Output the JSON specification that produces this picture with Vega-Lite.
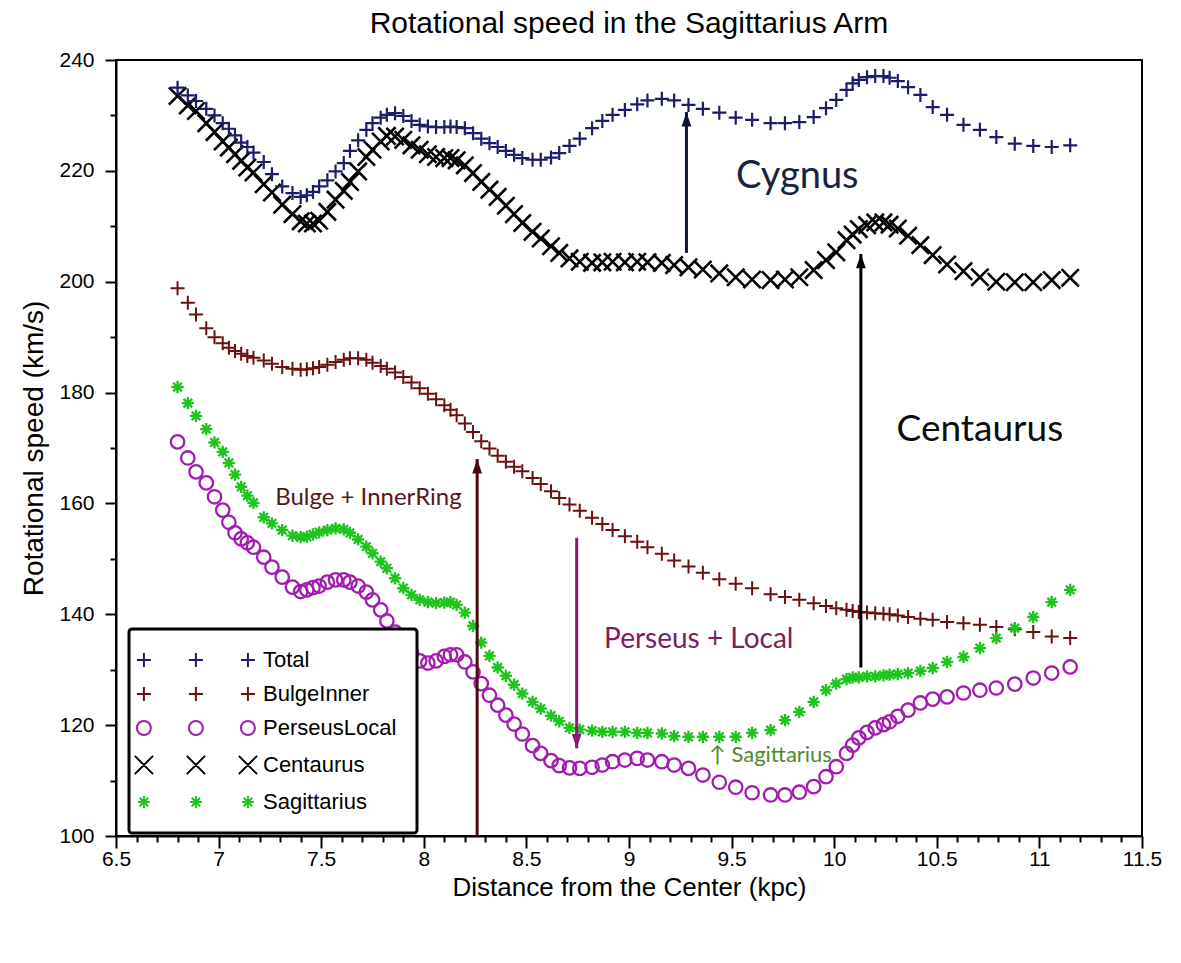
{
  "$schema": "https://vega.github.io/schema/vega-lite/v6.json",
  "width": 1026,
  "height": 776,
  "autosize": {"type": "none"},
  "padding": {"left": 116, "top": 60, "right": 39, "bottom": 127},
  "background": "white",
  "title": {
    "text": "Rotational speed in the Sagittarius Arm",
    "font": "Liberation Sans",
    "fontSize": 30,
    "fontWeight": "normal",
    "color": "black",
    "anchor": "middle",
    "frame": "group",
    "offset": 10
  },
  "config": {
    "view": {"stroke": "black", "strokeWidth": 2},
    "font": "Liberation Sans",
    "legend": {
      "padding": 20,
      "rowPadding": 12,
      "labelFont": "Liberation Sans",
      "labelFontSize": 22,
      "labelColor": "black",
      "labelOffset": 92,
      "labelLimit": 300,
      "fillColor": "white",
      "strokeColor": "black",
      "strokeWidth": 3,
      "cornerRadius": 3,
      "symbolSize": 196,
      "symbolStrokeWidth": 2,
      "symbolOpacity": 1
    }
  },
  "datasets": {
    "speed": [
      {"s":"Centaurus","r":6.80,"v":233.5},{"s":"Centaurus","r":6.85,"v":231.8},{"s":"Centaurus","r":6.89,"v":230.8},{"s":"Centaurus","r":6.94,"v":228.6},{"s":"Centaurus","r":6.98,"v":227.0},
      {"s":"Centaurus","r":7.02,"v":225.3},{"s":"Centaurus","r":7.05,"v":224.2},{"s":"Centaurus","r":7.08,"v":223.0},{"s":"Centaurus","r":7.11,"v":221.8},{"s":"Centaurus","r":7.14,"v":220.6},
      {"s":"Centaurus","r":7.17,"v":219.7},{"s":"Centaurus","r":7.22,"v":217.6},{"s":"Centaurus","r":7.26,"v":216.1},{"s":"Centaurus","r":7.31,"v":213.9},{"s":"Centaurus","r":7.36,"v":212.2},
      {"s":"Centaurus","r":7.40,"v":210.9},{"s":"Centaurus","r":7.43,"v":210.5},{"s":"Centaurus","r":7.46,"v":210.5},{"s":"Centaurus","r":7.49,"v":211.0},{"s":"Centaurus","r":7.53,"v":212.6},
      {"s":"Centaurus","r":7.57,"v":214.8},{"s":"Centaurus","r":7.61,"v":216.4},{"s":"Centaurus","r":7.64,"v":218.0},{"s":"Centaurus","r":7.68,"v":219.9},{"s":"Centaurus","r":7.72,"v":222.5},
      {"s":"Centaurus","r":7.75,"v":223.8},{"s":"Centaurus","r":7.79,"v":225.3},{"s":"Centaurus","r":7.82,"v":226.3},{"s":"Centaurus","r":7.86,"v":226.2},{"s":"Centaurus","r":7.90,"v":225.6},
      {"s":"Centaurus","r":7.94,"v":224.6},{"s":"Centaurus","r":7.98,"v":223.8},{"s":"Centaurus","r":8.02,"v":223.0},{"s":"Centaurus","r":8.06,"v":222.5},{"s":"Centaurus","r":8.10,"v":222.3},
      {"s":"Centaurus","r":8.13,"v":222.3},{"s":"Centaurus","r":8.16,"v":221.9},{"s":"Centaurus","r":8.20,"v":221.0},{"s":"Centaurus","r":8.24,"v":219.6},{"s":"Centaurus","r":8.28,"v":218.0},
      {"s":"Centaurus","r":8.32,"v":216.6},{"s":"Centaurus","r":8.36,"v":215.3},{"s":"Centaurus","r":8.40,"v":213.7},{"s":"Centaurus","r":8.44,"v":212.2},{"s":"Centaurus","r":8.48,"v":210.6},
      {"s":"Centaurus","r":8.53,"v":209.0},{"s":"Centaurus","r":8.57,"v":207.8},{"s":"Centaurus","r":8.62,"v":206.4},{"s":"Centaurus","r":8.66,"v":205.2},{"s":"Centaurus","r":8.71,"v":204.2},
      {"s":"Centaurus","r":8.76,"v":203.6},{"s":"Centaurus","r":8.82,"v":203.4},{"s":"Centaurus","r":8.87,"v":203.5},{"s":"Centaurus","r":8.92,"v":203.6},{"s":"Centaurus","r":8.98,"v":203.5},
      {"s":"Centaurus","r":9.04,"v":203.6},{"s":"Centaurus","r":9.09,"v":203.5},{"s":"Centaurus","r":9.16,"v":203.4},{"s":"Centaurus","r":9.22,"v":203.0},{"s":"Centaurus","r":9.29,"v":202.6},
      {"s":"Centaurus","r":9.36,"v":202.2},{"s":"Centaurus","r":9.44,"v":201.5},{"s":"Centaurus","r":9.52,"v":200.8},{"s":"Centaurus","r":9.60,"v":200.4},{"s":"Centaurus","r":9.69,"v":200.3},
      {"s":"Centaurus","r":9.76,"v":200.4},{"s":"Centaurus","r":9.83,"v":200.8},{"s":"Centaurus","r":9.90,"v":202.1},{"s":"Centaurus","r":9.96,"v":203.9},{"s":"Centaurus","r":10.01,"v":205.3},
      {"s":"Centaurus","r":10.06,"v":207.5},{"s":"Centaurus","r":10.09,"v":208.5},{"s":"Centaurus","r":10.12,"v":209.5},{"s":"Centaurus","r":10.16,"v":210.2},{"s":"Centaurus","r":10.20,"v":210.7},
      {"s":"Centaurus","r":10.24,"v":210.7},{"s":"Centaurus","r":10.27,"v":210.3},{"s":"Centaurus","r":10.31,"v":209.6},{"s":"Centaurus","r":10.36,"v":208.3},{"s":"Centaurus","r":10.42,"v":206.6},
      {"s":"Centaurus","r":10.48,"v":204.8},{"s":"Centaurus","r":10.55,"v":203.1},{"s":"Centaurus","r":10.63,"v":201.9},{"s":"Centaurus","r":10.71,"v":200.8},{"s":"Centaurus","r":10.79,"v":200.0},
      {"s":"Centaurus","r":10.88,"v":199.9},{"s":"Centaurus","r":10.97,"v":199.9},{"s":"Centaurus","r":11.06,"v":200.3},{"s":"Centaurus","r":11.15,"v":200.7},

      {"s":"Total","r":6.80,"v":235.0},{"s":"Total","r":6.85,"v":233.6},{"s":"Total","r":6.89,"v":232.6},{"s":"Total","r":6.94,"v":231.2},{"s":"Total","r":6.98,"v":230.0},
      {"s":"Total","r":7.02,"v":228.6},{"s":"Total","r":7.05,"v":227.6},{"s":"Total","r":7.08,"v":226.4},{"s":"Total","r":7.11,"v":225.1},{"s":"Total","r":7.14,"v":224.3},
      {"s":"Total","r":7.17,"v":223.3},{"s":"Total","r":7.22,"v":221.6},{"s":"Total","r":7.26,"v":219.4},{"s":"Total","r":7.31,"v":217.2},{"s":"Total","r":7.36,"v":216.0},
      {"s":"Total","r":7.40,"v":215.3},{"s":"Total","r":7.43,"v":215.6},{"s":"Total","r":7.46,"v":216.2},{"s":"Total","r":7.49,"v":217.2},{"s":"Total","r":7.53,"v":218.3},
      {"s":"Total","r":7.57,"v":219.9},{"s":"Total","r":7.61,"v":221.4},{"s":"Total","r":7.64,"v":223.6},{"s":"Total","r":7.68,"v":225.5},{"s":"Total","r":7.72,"v":227.4},
      {"s":"Total","r":7.75,"v":228.6},{"s":"Total","r":7.79,"v":229.6},{"s":"Total","r":7.82,"v":230.1},{"s":"Total","r":7.86,"v":230.4},{"s":"Total","r":7.90,"v":229.9},
      {"s":"Total","r":7.94,"v":229.0},{"s":"Total","r":7.98,"v":228.3},{"s":"Total","r":8.02,"v":228.0},{"s":"Total","r":8.06,"v":227.9},{"s":"Total","r":8.10,"v":227.9},
      {"s":"Total","r":8.13,"v":228.0},{"s":"Total","r":8.16,"v":227.9},{"s":"Total","r":8.20,"v":227.7},{"s":"Total","r":8.24,"v":226.8},{"s":"Total","r":8.28,"v":225.8},
      {"s":"Total","r":8.32,"v":225.0},{"s":"Total","r":8.36,"v":224.3},{"s":"Total","r":8.40,"v":223.6},{"s":"Total","r":8.44,"v":222.9},{"s":"Total","r":8.48,"v":222.3},
      {"s":"Total","r":8.53,"v":222.0},{"s":"Total","r":8.57,"v":222.0},{"s":"Total","r":8.62,"v":222.4},{"s":"Total","r":8.66,"v":223.2},{"s":"Total","r":8.71,"v":224.5},
      {"s":"Total","r":8.76,"v":225.8},{"s":"Total","r":8.82,"v":227.7},{"s":"Total","r":8.87,"v":229.0},{"s":"Total","r":8.92,"v":230.1},{"s":"Total","r":8.98,"v":231.0},
      {"s":"Total","r":9.04,"v":232.0},{"s":"Total","r":9.09,"v":232.7},{"s":"Total","r":9.16,"v":233.0},{"s":"Total","r":9.22,"v":232.7},{"s":"Total","r":9.29,"v":231.9},
      {"s":"Total","r":9.36,"v":231.2},{"s":"Total","r":9.44,"v":230.5},{"s":"Total","r":9.52,"v":229.6},{"s":"Total","r":9.60,"v":229.2},{"s":"Total","r":9.69,"v":228.6},
      {"s":"Total","r":9.76,"v":228.6},{"s":"Total","r":9.83,"v":228.8},{"s":"Total","r":9.90,"v":229.7},{"s":"Total","r":9.96,"v":231.3},{"s":"Total","r":10.01,"v":232.8},
      {"s":"Total","r":10.06,"v":234.6},{"s":"Total","r":10.09,"v":235.8},{"s":"Total","r":10.12,"v":236.4},{"s":"Total","r":10.16,"v":236.9},{"s":"Total","r":10.20,"v":237.1},
      {"s":"Total","r":10.24,"v":237.1},{"s":"Total","r":10.27,"v":236.8},{"s":"Total","r":10.31,"v":236.2},{"s":"Total","r":10.36,"v":235.1},{"s":"Total","r":10.42,"v":233.7},
      {"s":"Total","r":10.48,"v":231.5},{"s":"Total","r":10.55,"v":230.1},{"s":"Total","r":10.63,"v":228.3},{"s":"Total","r":10.71,"v":227.4},{"s":"Total","r":10.79,"v":226.1},
      {"s":"Total","r":10.88,"v":224.9},{"s":"Total","r":10.97,"v":224.5},{"s":"Total","r":11.06,"v":224.3},{"s":"Total","r":11.15,"v":224.6},

      {"s":"BulgeInner","r":6.80,"v":198.8},{"s":"BulgeInner","r":6.85,"v":196.2},{"s":"BulgeInner","r":6.89,"v":194.1},{"s":"BulgeInner","r":6.94,"v":191.6},{"s":"BulgeInner","r":6.98,"v":190.0},
      {"s":"BulgeInner","r":7.02,"v":188.9},{"s":"BulgeInner","r":7.05,"v":188.1},{"s":"BulgeInner","r":7.08,"v":187.5},{"s":"BulgeInner","r":7.11,"v":187.0},{"s":"BulgeInner","r":7.14,"v":186.6},
      {"s":"BulgeInner","r":7.17,"v":186.3},{"s":"BulgeInner","r":7.22,"v":185.8},{"s":"BulgeInner","r":7.26,"v":185.2},{"s":"BulgeInner","r":7.31,"v":184.6},{"s":"BulgeInner","r":7.36,"v":184.3},
      {"s":"BulgeInner","r":7.40,"v":184.1},{"s":"BulgeInner","r":7.43,"v":184.2},{"s":"BulgeInner","r":7.46,"v":184.4},{"s":"BulgeInner","r":7.49,"v":184.6},{"s":"BulgeInner","r":7.53,"v":185.0},
      {"s":"BulgeInner","r":7.57,"v":185.5},{"s":"BulgeInner","r":7.61,"v":185.9},{"s":"BulgeInner","r":7.64,"v":186.2},{"s":"BulgeInner","r":7.68,"v":186.2},{"s":"BulgeInner","r":7.72,"v":185.9},
      {"s":"BulgeInner","r":7.75,"v":185.4},{"s":"BulgeInner","r":7.79,"v":184.8},{"s":"BulgeInner","r":7.82,"v":184.3},{"s":"BulgeInner","r":7.86,"v":183.6},{"s":"BulgeInner","r":7.90,"v":182.8},
      {"s":"BulgeInner","r":7.94,"v":181.8},{"s":"BulgeInner","r":7.98,"v":180.8},{"s":"BulgeInner","r":8.02,"v":179.8},{"s":"BulgeInner","r":8.06,"v":178.8},{"s":"BulgeInner","r":8.10,"v":177.7},
      {"s":"BulgeInner","r":8.13,"v":176.9},{"s":"BulgeInner","r":8.16,"v":175.9},{"s":"BulgeInner","r":8.20,"v":174.4},{"s":"BulgeInner","r":8.24,"v":172.9},{"s":"BulgeInner","r":8.28,"v":171.2},
      {"s":"BulgeInner","r":8.32,"v":169.9},{"s":"BulgeInner","r":8.36,"v":168.6},{"s":"BulgeInner","r":8.40,"v":167.5},{"s":"BulgeInner","r":8.44,"v":166.6},{"s":"BulgeInner","r":8.48,"v":165.8},
      {"s":"BulgeInner","r":8.53,"v":164.6},{"s":"BulgeInner","r":8.57,"v":163.5},{"s":"BulgeInner","r":8.62,"v":162.2},{"s":"BulgeInner","r":8.66,"v":161.0},{"s":"BulgeInner","r":8.71,"v":159.8},
      {"s":"BulgeInner","r":8.76,"v":158.7},{"s":"BulgeInner","r":8.82,"v":157.4},{"s":"BulgeInner","r":8.87,"v":156.3},{"s":"BulgeInner","r":8.92,"v":155.2},{"s":"BulgeInner","r":8.98,"v":154.1},
      {"s":"BulgeInner","r":9.04,"v":153.1},{"s":"BulgeInner","r":9.09,"v":152.1},{"s":"BulgeInner","r":9.16,"v":150.9},{"s":"BulgeInner","r":9.22,"v":149.7},{"s":"BulgeInner","r":9.29,"v":148.6},
      {"s":"BulgeInner","r":9.36,"v":147.5},{"s":"BulgeInner","r":9.44,"v":146.3},{"s":"BulgeInner","r":9.52,"v":145.5},{"s":"BulgeInner","r":9.60,"v":144.7},{"s":"BulgeInner","r":9.69,"v":143.6},
      {"s":"BulgeInner","r":9.76,"v":143.1},{"s":"BulgeInner","r":9.83,"v":142.6},{"s":"BulgeInner","r":9.90,"v":142.0},{"s":"BulgeInner","r":9.96,"v":141.5},{"s":"BulgeInner","r":10.01,"v":141.1},
      {"s":"BulgeInner","r":10.06,"v":140.8},{"s":"BulgeInner","r":10.09,"v":140.6},{"s":"BulgeInner","r":10.12,"v":140.4},{"s":"BulgeInner","r":10.16,"v":140.3},{"s":"BulgeInner","r":10.20,"v":140.2},
      {"s":"BulgeInner","r":10.24,"v":140.1},{"s":"BulgeInner","r":10.27,"v":140.0},{"s":"BulgeInner","r":10.31,"v":139.8},{"s":"BulgeInner","r":10.36,"v":139.5},{"s":"BulgeInner","r":10.42,"v":139.2},
      {"s":"BulgeInner","r":10.48,"v":139.0},{"s":"BulgeInner","r":10.55,"v":138.6},{"s":"BulgeInner","r":10.63,"v":138.4},{"s":"BulgeInner","r":10.71,"v":138.1},{"s":"BulgeInner","r":10.79,"v":137.7},
      {"s":"BulgeInner","r":10.88,"v":137.3},{"s":"BulgeInner","r":10.97,"v":136.8},{"s":"BulgeInner","r":11.06,"v":136.0},{"s":"BulgeInner","r":11.15,"v":135.7},

      {"s":"PerseusLocal","r":6.80,"v":171.1},{"s":"PerseusLocal","r":6.85,"v":168.2},{"s":"PerseusLocal","r":6.89,"v":165.7},{"s":"PerseusLocal","r":6.94,"v":163.7},{"s":"PerseusLocal","r":6.98,"v":161.2},
      {"s":"PerseusLocal","r":7.02,"v":158.8},{"s":"PerseusLocal","r":7.05,"v":156.6},{"s":"PerseusLocal","r":7.08,"v":154.7},{"s":"PerseusLocal","r":7.11,"v":153.6},{"s":"PerseusLocal","r":7.14,"v":152.9},
      {"s":"PerseusLocal","r":7.17,"v":152.1},{"s":"PerseusLocal","r":7.22,"v":150.3},{"s":"PerseusLocal","r":7.26,"v":148.5},{"s":"PerseusLocal","r":7.31,"v":146.7},{"s":"PerseusLocal","r":7.36,"v":144.9},
      {"s":"PerseusLocal","r":7.40,"v":144.1},{"s":"PerseusLocal","r":7.43,"v":144.4},{"s":"PerseusLocal","r":7.46,"v":144.8},{"s":"PerseusLocal","r":7.49,"v":145.1},{"s":"PerseusLocal","r":7.53,"v":145.8},
      {"s":"PerseusLocal","r":7.57,"v":146.2},{"s":"PerseusLocal","r":7.61,"v":146.2},{"s":"PerseusLocal","r":7.64,"v":145.8},{"s":"PerseusLocal","r":7.68,"v":145.1},{"s":"PerseusLocal","r":7.72,"v":144.0},
      {"s":"PerseusLocal","r":7.75,"v":142.6},{"s":"PerseusLocal","r":7.79,"v":140.8},{"s":"PerseusLocal","r":7.82,"v":138.8},{"s":"PerseusLocal","r":7.86,"v":136.8},{"s":"PerseusLocal","r":7.90,"v":134.8},
      {"s":"PerseusLocal","r":7.94,"v":133.0},{"s":"PerseusLocal","r":7.98,"v":131.6},{"s":"PerseusLocal","r":8.02,"v":131.2},{"s":"PerseusLocal","r":8.06,"v":131.6},{"s":"PerseusLocal","r":8.10,"v":132.4},
      {"s":"PerseusLocal","r":8.13,"v":132.7},{"s":"PerseusLocal","r":8.16,"v":132.7},{"s":"PerseusLocal","r":8.20,"v":131.4},{"s":"PerseusLocal","r":8.24,"v":129.6},{"s":"PerseusLocal","r":8.28,"v":127.5},
      {"s":"PerseusLocal","r":8.32,"v":125.4},{"s":"PerseusLocal","r":8.36,"v":123.6},{"s":"PerseusLocal","r":8.40,"v":121.8},{"s":"PerseusLocal","r":8.44,"v":120.2},{"s":"PerseusLocal","r":8.48,"v":118.4},
      {"s":"PerseusLocal","r":8.53,"v":116.3},{"s":"PerseusLocal","r":8.57,"v":114.9},{"s":"PerseusLocal","r":8.62,"v":113.6},{"s":"PerseusLocal","r":8.66,"v":112.7},{"s":"PerseusLocal","r":8.71,"v":112.3},
      {"s":"PerseusLocal","r":8.76,"v":112.2},{"s":"PerseusLocal","r":8.82,"v":112.4},{"s":"PerseusLocal","r":8.87,"v":112.8},{"s":"PerseusLocal","r":8.92,"v":113.4},{"s":"PerseusLocal","r":8.98,"v":113.7},
      {"s":"PerseusLocal","r":9.04,"v":114.0},{"s":"PerseusLocal","r":9.09,"v":113.7},{"s":"PerseusLocal","r":9.16,"v":113.4},{"s":"PerseusLocal","r":9.22,"v":112.8},{"s":"PerseusLocal","r":9.29,"v":112.2},
      {"s":"PerseusLocal","r":9.36,"v":111.0},{"s":"PerseusLocal","r":9.44,"v":109.7},{"s":"PerseusLocal","r":9.52,"v":108.8},{"s":"PerseusLocal","r":9.60,"v":107.8},{"s":"PerseusLocal","r":9.69,"v":107.4},
      {"s":"PerseusLocal","r":9.76,"v":107.4},{"s":"PerseusLocal","r":9.83,"v":107.9},{"s":"PerseusLocal","r":9.90,"v":108.9},{"s":"PerseusLocal","r":9.96,"v":110.7},{"s":"PerseusLocal","r":10.01,"v":112.5},
      {"s":"PerseusLocal","r":10.06,"v":114.9},{"s":"PerseusLocal","r":10.09,"v":116.4},{"s":"PerseusLocal","r":10.12,"v":117.7},{"s":"PerseusLocal","r":10.16,"v":118.7},{"s":"PerseusLocal","r":10.20,"v":119.5},
      {"s":"PerseusLocal","r":10.24,"v":120.1},{"s":"PerseusLocal","r":10.27,"v":120.6},{"s":"PerseusLocal","r":10.31,"v":121.6},{"s":"PerseusLocal","r":10.36,"v":122.7},{"s":"PerseusLocal","r":10.42,"v":124.0},
      {"s":"PerseusLocal","r":10.48,"v":124.7},{"s":"PerseusLocal","r":10.55,"v":125.1},{"s":"PerseusLocal","r":10.63,"v":125.8},{"s":"PerseusLocal","r":10.71,"v":126.3},{"s":"PerseusLocal","r":10.79,"v":126.7},
      {"s":"PerseusLocal","r":10.88,"v":127.4},{"s":"PerseusLocal","r":10.97,"v":128.5},{"s":"PerseusLocal","r":11.06,"v":129.4},{"s":"PerseusLocal","r":11.15,"v":130.5},

      {"s":"Sagittarius","r":6.80,"v":181.0},{"s":"Sagittarius","r":6.85,"v":178.1},{"s":"Sagittarius","r":6.89,"v":175.8},{"s":"Sagittarius","r":6.94,"v":173.4},{"s":"Sagittarius","r":6.98,"v":171.0},
      {"s":"Sagittarius","r":7.02,"v":169.3},{"s":"Sagittarius","r":7.05,"v":167.3},{"s":"Sagittarius","r":7.08,"v":165.2},{"s":"Sagittarius","r":7.11,"v":163.0},{"s":"Sagittarius","r":7.14,"v":161.4},
      {"s":"Sagittarius","r":7.17,"v":160.1},{"s":"Sagittarius","r":7.22,"v":157.5},{"s":"Sagittarius","r":7.26,"v":156.4},{"s":"Sagittarius","r":7.31,"v":155.2},{"s":"Sagittarius","r":7.36,"v":154.2},
      {"s":"Sagittarius","r":7.40,"v":153.9},{"s":"Sagittarius","r":7.43,"v":154.0},{"s":"Sagittarius","r":7.46,"v":154.4},{"s":"Sagittarius","r":7.49,"v":154.8},{"s":"Sagittarius","r":7.53,"v":155.2},
      {"s":"Sagittarius","r":7.57,"v":155.5},{"s":"Sagittarius","r":7.61,"v":155.3},{"s":"Sagittarius","r":7.64,"v":154.7},{"s":"Sagittarius","r":7.68,"v":153.5},{"s":"Sagittarius","r":7.72,"v":152.2},
      {"s":"Sagittarius","r":7.75,"v":151.0},{"s":"Sagittarius","r":7.79,"v":149.5},{"s":"Sagittarius","r":7.82,"v":148.3},{"s":"Sagittarius","r":7.86,"v":146.5},{"s":"Sagittarius","r":7.90,"v":144.7},
      {"s":"Sagittarius","r":7.94,"v":143.5},{"s":"Sagittarius","r":7.98,"v":142.6},{"s":"Sagittarius","r":8.02,"v":142.2},{"s":"Sagittarius","r":8.06,"v":142.0},{"s":"Sagittarius","r":8.10,"v":142.1},
      {"s":"Sagittarius","r":8.13,"v":142.2},{"s":"Sagittarius","r":8.16,"v":141.7},{"s":"Sagittarius","r":8.20,"v":140.3},{"s":"Sagittarius","r":8.24,"v":137.9},{"s":"Sagittarius","r":8.28,"v":134.9},
      {"s":"Sagittarius","r":8.32,"v":132.5},{"s":"Sagittarius","r":8.36,"v":130.4},{"s":"Sagittarius","r":8.40,"v":128.9},{"s":"Sagittarius","r":8.44,"v":127.3},{"s":"Sagittarius","r":8.48,"v":125.7},
      {"s":"Sagittarius","r":8.53,"v":124.2},{"s":"Sagittarius","r":8.57,"v":123.0},{"s":"Sagittarius","r":8.62,"v":121.7},{"s":"Sagittarius","r":8.66,"v":120.7},{"s":"Sagittarius","r":8.71,"v":119.5},
      {"s":"Sagittarius","r":8.76,"v":119.2},{"s":"Sagittarius","r":8.82,"v":119.0},{"s":"Sagittarius","r":8.87,"v":118.8},{"s":"Sagittarius","r":8.92,"v":118.8},{"s":"Sagittarius","r":8.98,"v":118.8},
      {"s":"Sagittarius","r":9.04,"v":118.6},{"s":"Sagittarius","r":9.09,"v":118.6},{"s":"Sagittarius","r":9.16,"v":118.5},{"s":"Sagittarius","r":9.22,"v":118.0},{"s":"Sagittarius","r":9.29,"v":117.9},
      {"s":"Sagittarius","r":9.36,"v":117.9},{"s":"Sagittarius","r":9.44,"v":117.9},{"s":"Sagittarius","r":9.52,"v":117.9},{"s":"Sagittarius","r":9.60,"v":118.6},{"s":"Sagittarius","r":9.69,"v":119.1},
      {"s":"Sagittarius","r":9.76,"v":120.9},{"s":"Sagittarius","r":9.83,"v":122.4},{"s":"Sagittarius","r":9.90,"v":124.2},{"s":"Sagittarius","r":9.96,"v":126.3},{"s":"Sagittarius","r":10.01,"v":127.5},
      {"s":"Sagittarius","r":10.06,"v":128.3},{"s":"Sagittarius","r":10.09,"v":128.6},{"s":"Sagittarius","r":10.12,"v":128.6},{"s":"Sagittarius","r":10.16,"v":128.8},{"s":"Sagittarius","r":10.20,"v":128.8},
      {"s":"Sagittarius","r":10.24,"v":129.0},{"s":"Sagittarius","r":10.27,"v":129.1},{"s":"Sagittarius","r":10.31,"v":129.2},{"s":"Sagittarius","r":10.36,"v":129.4},{"s":"Sagittarius","r":10.42,"v":129.8},
      {"s":"Sagittarius","r":10.48,"v":130.3},{"s":"Sagittarius","r":10.55,"v":131.4},{"s":"Sagittarius","r":10.63,"v":132.3},{"s":"Sagittarius","r":10.71,"v":133.9},{"s":"Sagittarius","r":10.79,"v":135.7},
      {"s":"Sagittarius","r":10.88,"v":137.5},{"s":"Sagittarius","r":10.97,"v":139.5},{"s":"Sagittarius","r":11.06,"v":142.2},{"s":"Sagittarius","r":11.15,"v":144.4}
    ],
    "arrows": [
      {"a": "cyg", "r": 9.28, "v0": 205.2, "v": 230.6},
      {"a": "cen", "r": 10.13, "v0": 130.4, "v": 205.0},
      {"a": "bul", "r": 8.26, "v0": 100, "v": 168.0},
      {"a": "per", "r": 8.745, "v0": 153.8, "v": 115.8}
    ],
    "notes": [
      {"n": "Cygnus", "r": 9.82, "v": 218.9},
      {"n": "Centaurus", "r": 10.71, "v": 173.2},
      {"n": "Bulge + InnerRing", "r": 7.73, "v": 161.0},
      {"n": "Perseus + Local", "r": 9.34, "v": 135.4},
      {"n": "↑ Sagittarius", "r": 9.69, "v": 114.6}
    ]
  },
  "encoding": {
    "x": {
      "field": "r",
      "type": "quantitative",
      "scale": {"domain": [6.5, 11.5], "nice": false, "zero": false},
      "axis": {
        "title": "Distance from the Center (kpc)",
        "titleFont": "Liberation Sans",
        "titleFontSize": 26,
        "titleFontWeight": "normal",
        "titleColor": "black",
        "titlePadding": 5,
        "values": [6.5,6.6,6.7,6.8,6.9,7,7.1,7.2,7.3,7.4,7.5,7.6,7.7,7.8,7.9,8,8.1,8.2,8.3,8.4,8.5,8.6,8.7,8.8,8.9,9,9.1,9.2,9.3,9.4,9.5,9.6,9.7,9.8,9.9,10,10.1,10.2,10.3,10.4,10.5,10.6,10.7,10.8,10.9,11,11.1,11.2,11.3,11.4,11.5],
        "labelExpr": "abs(datum.value * 2 - round(datum.value * 2)) < 0.001 ? format(datum.value, '~g') : ''",
        "tickSize": {"condition": {"test": "abs(datum.value * 2 - round(datum.value * 2)) < 0.001", "value": 12}, "value": 6},
        "labelFont": "Liberation Sans",
        "labelFontSize": 21,
        "labelColor": "black",
        "labelPadding": 0,
        "labelFlush": false,
        "labelOverlap": false,
        "tickColor": "black",
        "tickWidth": 2,
        "domainColor": "black",
        "domainWidth": 2,
        "grid": false
      }
    },
    "y": {
      "field": "v",
      "type": "quantitative",
      "scale": {"domain": [100, 240], "nice": false, "zero": false},
      "axis": {
        "title": "Rotational speed (km/s)",
        "titleFont": "Liberation Sans",
        "titleFontSize": 28,
        "titleFontWeight": "normal",
        "titleColor": "black",
        "titlePadding": 10,
        "values": [100,110,120,130,140,150,160,170,180,190,200,210,220,230,240],
        "labelExpr": "datum.value % 20 == 0 ? datum.label : ''",
        "tickSize": {"condition": {"test": "datum.value % 20 == 0", "value": 11}, "value": 6},
        "labelFont": "Liberation Sans",
        "labelFontSize": 21,
        "labelColor": "black",
        "labelPadding": 11,
        "labelFlush": false,
        "labelOverlap": false,
        "tickColor": "black",
        "tickWidth": 2,
        "domainColor": "black",
        "domainWidth": 2,
        "grid": false
      }
    }
  },
  "layer": [
    {
      "data": {"name": "speed"},
      "transform": [{"filter": "datum.s == 'Centaurus'"}],
      "mark": {"type": "point", "filled": false, "opacity": 1, "shape": "M-1,-1L1,1M-1,1L1,-1", "size": 300, "strokeWidth": 2.6},
      "encoding": {
        "color": {
          "field": "s", "type": "nominal",
          "scale": {"domain": ["Total", "BulgeInner", "PerseusLocal", "Centaurus", "Sagittarius"], "range": ["#1c1c6b", "#6b1010", "#a21caf", "#000000", "#1fc41f"]},
          "legend": {"title": null, "orient": "none", "legendX": 13, "legendY": 569}
        }
      }
    },
    {
      "data": {"name": "speed"},
      "transform": [{"filter": "datum.s == 'Total'"}],
      "mark": {"type": "point", "filled": false, "opacity": 1, "shape": "M-1,0H1M0,-1V1", "size": 196, "strokeWidth": 2.2},
      "encoding": {
        "color": {
          "field": "s", "type": "nominal",
          "scale": {"domain": ["Total", "BulgeInner", "PerseusLocal", "Centaurus", "Sagittarius"], "range": ["#1c1c6b", "#6b1010", "#a21caf", "#000000", "#1fc41f"]},
          "legend": {"title": null, "orient": "none", "legendX": 13, "legendY": 569}
        }
      }
    },
    {
      "data": {"name": "speed"},
      "transform": [{"filter": "datum.s == 'BulgeInner'"}],
      "mark": {"type": "point", "filled": false, "opacity": 1, "shape": "M-1,0H1M0,-1V1", "size": 196, "strokeWidth": 2},
      "encoding": {
        "color": {
          "field": "s", "type": "nominal",
          "scale": {"domain": ["Total", "BulgeInner", "PerseusLocal", "Centaurus", "Sagittarius"], "range": ["#1c1c6b", "#6b1010", "#a21caf", "#000000", "#1fc41f"]},
          "legend": {"title": null, "orient": "none", "legendX": 13, "legendY": 569}
        }
      }
    },
    {
      "data": {"name": "speed"},
      "transform": [{"filter": "datum.s == 'PerseusLocal'"}],
      "mark": {"type": "point", "filled": false, "opacity": 1, "shape": "circle", "size": 180, "strokeWidth": 2.3},
      "encoding": {
        "color": {
          "field": "s", "type": "nominal",
          "scale": {"domain": ["Total", "BulgeInner", "PerseusLocal", "Centaurus", "Sagittarius"], "range": ["#1c1c6b", "#6b1010", "#a21caf", "#000000", "#1fc41f"]},
          "legend": {"title": null, "orient": "none", "legendX": 13, "legendY": 569}
        }
      }
    },
    {
      "data": {"name": "speed"},
      "transform": [{"filter": "datum.s == 'Sagittarius'"}],
      "mark": {"type": "point", "filled": false, "opacity": 1, "shape": "M-1,0H1M0,-1V1M-0.7,-0.7L0.7,0.7M-0.7,0.7L0.7,-0.7", "size": 150, "strokeWidth": 2.4},
      "encoding": {
        "color": {
          "field": "s", "type": "nominal",
          "scale": {"domain": ["Total", "BulgeInner", "PerseusLocal", "Centaurus", "Sagittarius"], "range": ["#1c1c6b", "#6b1010", "#a21caf", "#000000", "#1fc41f"]},
          "legend": {"title": null, "orient": "none", "legendX": 13, "legendY": 569}
        }
      }
    },
    {
      "data": {"name": "speed"},
      "transform": [{"filter": "datum.r == 6.8"}],
      "mark": {"type": "point", "filled": false, "opacity": 0},
      "encoding": {
        "color": {
          "field": "s", "type": "nominal",
          "scale": {"domain": ["Total", "BulgeInner", "PerseusLocal", "Centaurus", "Sagittarius"], "range": ["#1c1c6b", "#6b1010", "#a21caf", "#000000", "#1fc41f"]},
          "legend": {"title": null, "orient": "none", "legendX": 13, "legendY": 569}
        },
        "shape": {
          "field": "s", "type": "nominal",
          "scale": {
            "domain": ["Total", "BulgeInner", "PerseusLocal", "Centaurus", "Sagittarius"],
            "range": [
              "M-3.3,0H-1.3M-2.3,-1V1M4.13,0H6.13M5.13,-1V1M11.56,0H13.56M12.56,-1V1",
              "M-3.3,0H-1.3M-2.3,-1V1M4.13,0H6.13M5.13,-1V1M11.56,0H13.56M12.56,-1V1",
              "M-1.3,0C-1.3,0.55,-1.75,1,-2.3,1C-2.85,1,-3.3,0.55,-3.3,0C-3.3,-0.55,-2.85,-1,-2.3,-1C-1.75,-1,-1.3,-0.55,-1.3,0ZM6.13,0C6.13,0.55,5.68,1,5.13,1C4.58,1,4.13,0.55,4.13,0C4.13,-0.55,4.58,-1,5.13,-1C5.68,-1,6.13,-0.55,6.13,0ZM13.56,0C13.56,0.55,13.11,1,12.56,1C12.01,1,11.56,0.55,11.56,0C11.56,-0.55,12.01,-1,12.56,-1C13.11,-1,13.56,-0.55,13.56,0Z",
              "M-3.6,-1.3L-1,1.3M-3.6,1.3L-1,-1.3M3.83,-1.3L6.43,1.3M3.83,1.3L6.43,-1.3M11.26,-1.3L13.86,1.3M11.26,1.3L13.86,-1.3",
              "M-3.15,0H-1.45M-2.3,-0.85V0.85M-2.9,-0.6L-1.7,0.6M-2.9,0.6L-1.7,-0.6M4.28,0H5.98M5.13,-0.85V0.85M4.53,-0.6L5.73,0.6M4.53,0.6L5.73,-0.6M11.71,0H13.41M12.56,-0.85V0.85M11.96,-0.6L13.16,0.6M11.96,0.6L13.16,-0.6"
            ]
          },
          "legend": {"title": null, "orient": "none", "legendX": 13, "legendY": 569}
        }
      }
    },
    {
      "data": {"name": "arrows"},
      "mark": {"type": "rule", "strokeWidth": 3},
      "encoding": {
        "y2": {"field": "v0"},
        "stroke": {
          "field": "a",
          "type": "nominal",
          "scale": {"domain": ["cyg", "cen", "bul", "per"], "range": ["#0d1733", "#000000", "#4a0a10", "#8a1a6e"]},
          "legend": null
        }
      }
    },
    {
      "data": {"name": "arrows"},
      "transform": [{"filter": "datum.v > datum.v0"}],
      "mark": {"type": "point", "shape": "M0,0L0.75,2.2L-0.75,2.2Z", "filled": true, "size": 169, "opacity": 1, "strokeWidth": 0},
      "encoding": {
        "fill": {
          "field": "a",
          "type": "nominal",
          "scale": {"domain": ["cyg", "cen", "bul", "per"], "range": ["#0d1733", "#000000", "#4a0a10", "#8a1a6e"]},
          "legend": null
        }
      }
    },
    {
      "data": {"name": "arrows"},
      "transform": [{"filter": "datum.v < datum.v0"}],
      "mark": {"type": "point", "shape": "M0,0L0.75,-2.2L-0.75,-2.2Z", "filled": true, "size": 169, "opacity": 1, "strokeWidth": 0},
      "encoding": {
        "fill": {
          "field": "a",
          "type": "nominal",
          "scale": {"domain": ["cyg", "cen", "bul", "per"], "range": ["#0d1733", "#000000", "#4a0a10", "#8a1a6e"]},
          "legend": null
        }
      }
    },
    {
      "data": {"name": "notes"},
      "transform": [{"filter": "datum.n == 'Cygnus'"}],
      "mark": {"type": "text", "font": "Lato", "fontSize": 38, "color": "#17243f", "align": "center", "baseline": "middle"},
      "encoding": {"text": {"field": "n"}}
    },
    {
      "data": {"name": "notes"},
      "transform": [{"filter": "datum.n == 'Centaurus'"}],
      "mark": {"type": "text", "font": "Lato", "fontSize": 37, "color": "#0d0d0d", "align": "center", "baseline": "middle"},
      "encoding": {"text": {"field": "n"}}
    },
    {
      "data": {"name": "notes"},
      "transform": [{"filter": "datum.n == 'Bulge + InnerRing'"}],
      "mark": {"type": "text", "font": "Lato", "fontSize": 24, "color": "#5b1515", "align": "center", "baseline": "middle"},
      "encoding": {"text": {"field": "n"}}
    },
    {
      "data": {"name": "notes"},
      "transform": [{"filter": "datum.n == 'Perseus + Local'"}],
      "mark": {"type": "text", "font": "Lato", "fontSize": 28, "color": "#7d1d5c", "align": "center", "baseline": "middle"},
      "encoding": {"text": {"field": "n"}}
    },
    {
      "data": {"name": "notes"},
      "transform": [{"filter": "datum.n == '↑ Sagittarius'"}],
      "mark": {"type": "text", "font": "Lato", "fontSize": 22, "color": "#4f8a2e", "align": "center", "baseline": "middle"},
      "encoding": {"text": {"field": "n"}}
    }
  ]
}
